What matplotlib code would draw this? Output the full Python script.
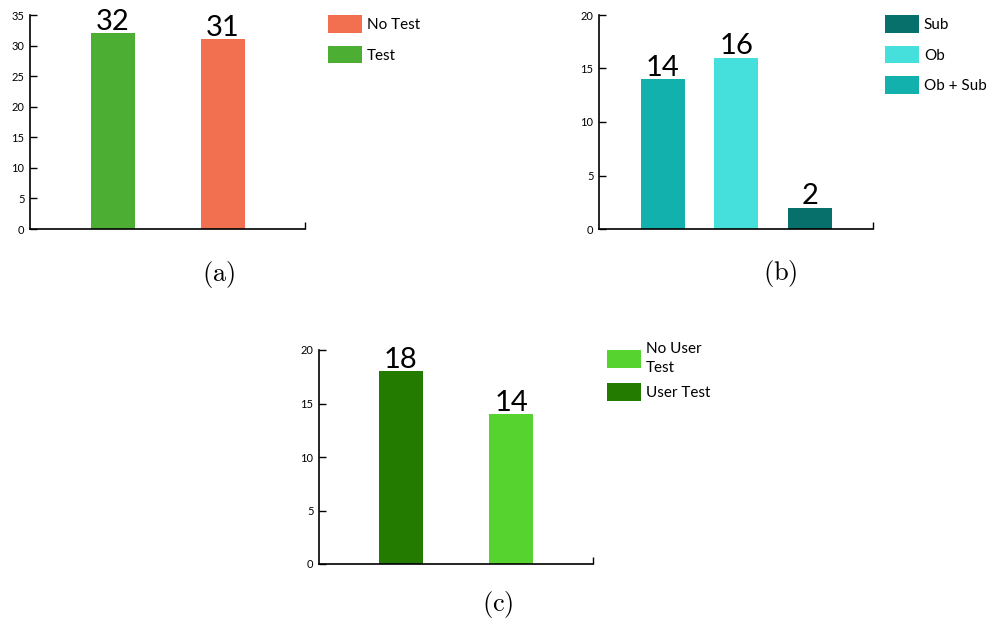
import matplotlib
matplotlib.use('Agg')
import matplotlib.pyplot as plt
from matplotlib.patches import Patch

plt.rcParams['font.family'] = ['Lato', 'DejaVu Sans']
plt.rcParams['mathtext.fontset'] = 'cm'

# panel (a)
a_labels = ['Test', 'No Test']
a_values = [32, 31]
a_colors = ['#4caf34', '#f26f50']

# panel (b)
b_labels = ['Ob + Sub', 'Ob', 'Sub']
b_values = [14, 16, 2]
b_colors = ['#12b1ad', '#46e0dc', '#08706b']

# panel (c)
c_labels = ['User Test', 'No User\nTest']
c_values = [18, 14]
c_colors = ['#237c00', '#56d32e']

W, H = 991, 626
fig = plt.figure(figsize=(W / 100, H / 100), dpi=100)


def px_axes(left, right, bottom, top):
    return fig.add_axes([left / W, (H - bottom) / H, (right - left) / W, (bottom - top) / H])


def draw_panel(ax, labels, values, colors, width, xlim, ymax, yticks):
    x = list(range(len(values)))
    bars = ax.bar(x, values, width=width, color=colors)
    ax.bar_label(bars, labels=[str(v) for v in values], padding=-1, fontsize=21)
    ax.set_xlim(*xlim)
    ax.set_ylim(0, ymax)
    ax.set_yticks(yticks)
    ax.set_xticks([xlim[1]])
    ax.set_xticklabels([''])
    ax.tick_params(axis='y', direction='in', length=5, width=1, labelsize=8, pad=4)
    ax.tick_params(axis='x', direction='in', length=5, width=1)
    for s in ['top', 'right']:
        ax.spines[s].set_visible(False)
    for s in ['left', 'bottom']:
        ax.spines[s].set_linewidth(1.2)
    return bars


def add_legend(ax, labels, colors, order, x, y, spacing, linespacing=1.2):
    handles = [Patch(facecolor=colors[i], label=labels[i]) for i in order]
    leg = ax.legend(handles=handles, loc='upper left', bbox_to_anchor=(x / W, (H - y) / H),
                    bbox_transform=fig.transFigure, frameon=False, fontsize=11,
                    handlelength=2.25, handleheight=1.4, handletextpad=0.3,
                    labelspacing=spacing, borderpad=0, borderaxespad=0)
    for t in leg.get_texts():
        t.set_linespacing(linespacing)
    return leg


ax_a = px_axes(30, 305, 229, 15)
draw_panel(ax_a, a_labels, a_values, a_colors, 0.4, (-0.755, 1.745), 35, range(0, 36, 5))
add_legend(ax_a, a_labels, a_colors, [1, 0], 328, 15, 0.85)

ax_b = px_axes(599, 873, 229, 15)
draw_panel(ax_b, b_labels, b_values, b_colors, 0.6, (-0.87, 2.86), 20, range(0, 21, 5))
add_legend(ax_b, b_labels, b_colors, [2, 1, 0], 885, 15, 0.85)

ax_c = px_axes(319, 593, 564, 350)
draw_panel(ax_c, c_labels, c_values, c_colors, 0.4, (-0.745, 1.745), 20, range(0, 21, 5))
add_legend(ax_c, c_labels, c_colors, [1, 0], 607, 342, 0.55, linespacing=1.45)

fig.text(219 / W, 1 - 274 / H, r'$(\mathrm{a})$', ha='center', va='center', fontsize=19)
fig.text(780 / W, 1 - 273 / H, r'$(\mathrm{b})$', ha='center', va='center', fontsize=19)
fig.text(498 / W, 1 - 605 / H, r'$(\mathrm{c})$', ha='center', va='center', fontsize=19)

fig.savefig('out.png', dpi=100)
